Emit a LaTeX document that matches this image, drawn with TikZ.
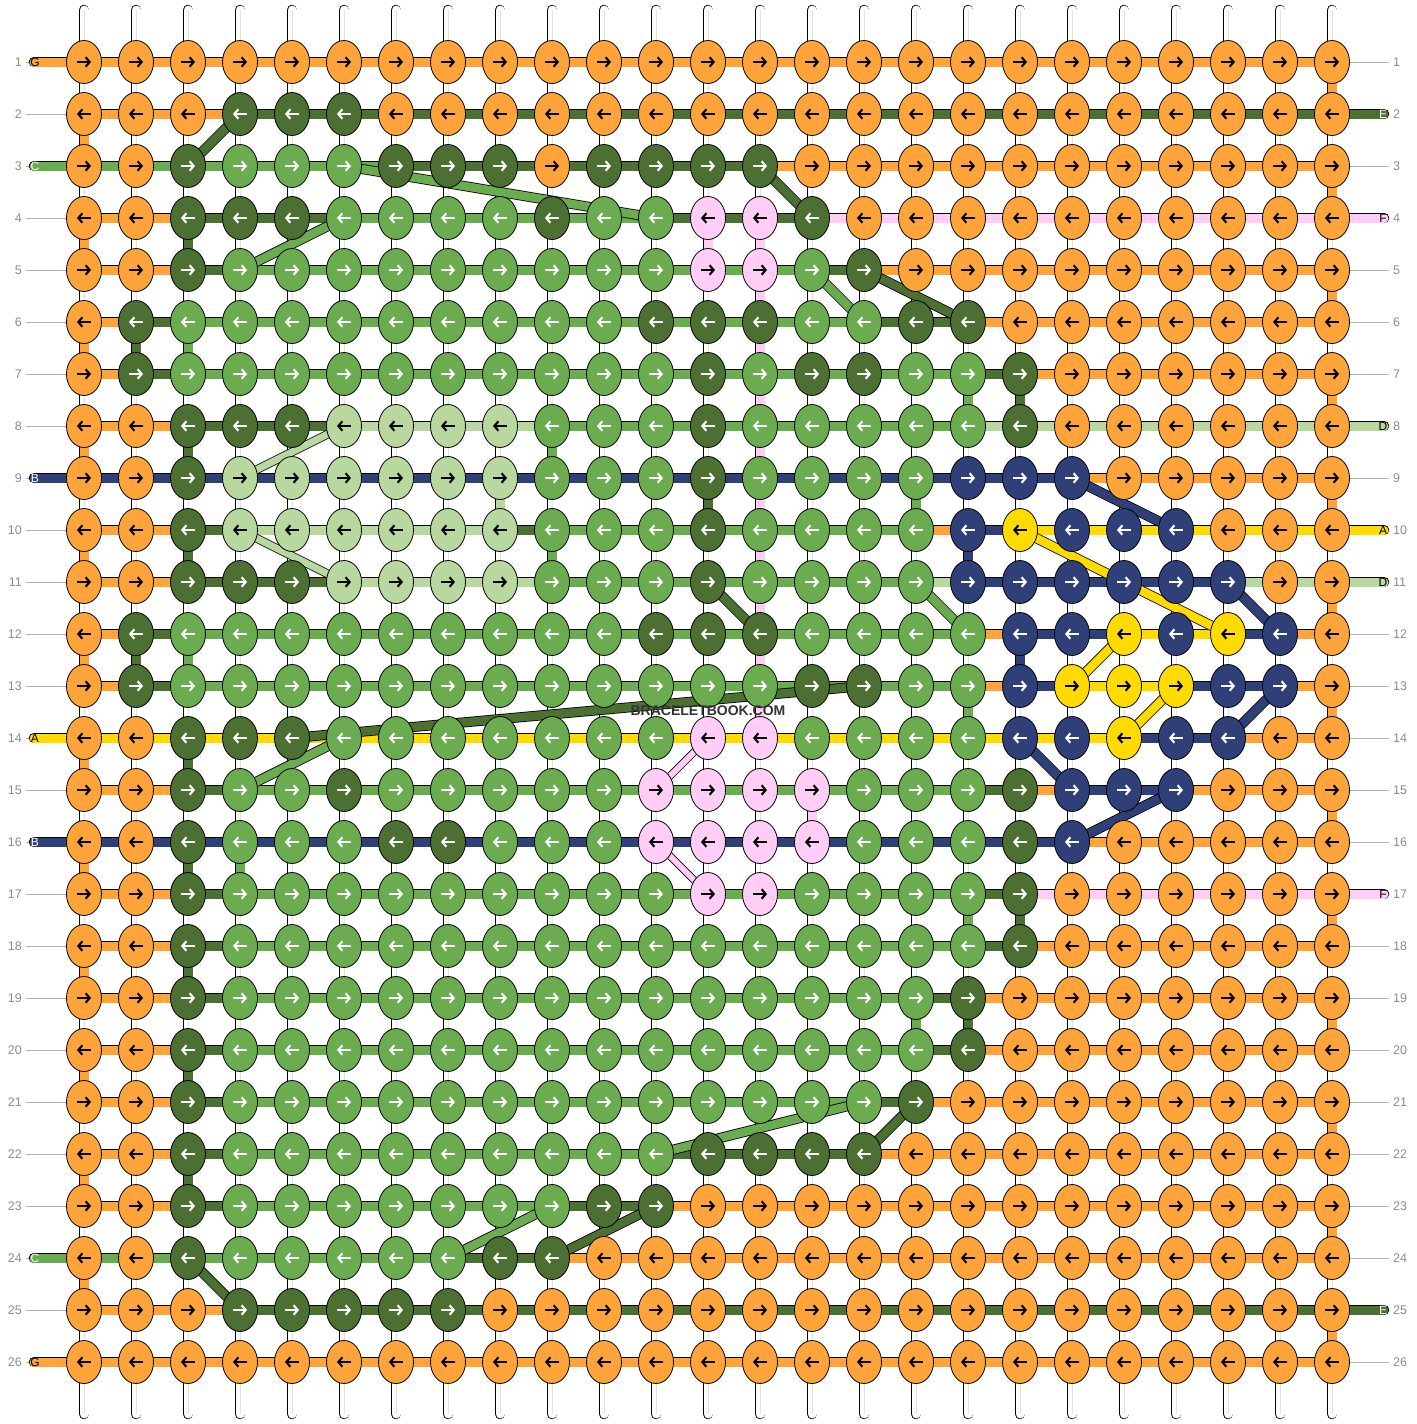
\documentclass[tikz,border=0pt]{standalone}
\usepackage{fontspec}
\setmainfont{Liberation Sans}
\usetikzlibrary{shapes.geometric,arrows.meta}

\definecolor{cO}{HTML}{FFA43B}
\definecolor{cG}{HTML}{6AAC4F}
\definecolor{cD}{HTML}{4B7032}
\definecolor{cL}{HTML}{B9D89F}
\definecolor{cP}{HTML}{FFCDF6}
\definecolor{cN}{HTML}{2E4077}
\definecolor{cY}{HTML}{FFDB00}
% arrow / letter colour on each knot colour
\colorlet{aO}{black}
\colorlet{aG}{white}
\colorlet{aD}{white}
\colorlet{aL}{black}
\colorlet{aP}{black}
\colorlet{aN}{white}
\colorlet{aY}{black}

\newcount\kcol

% knot colours, row by row, as colour/run
\def\knotrows{%
{O/25},%
{O/3,D/3,O/19},%
{O/2,D/1,G/3,D/3,O/1,D/4,O/11},%
{O/2,D/3,G/4,D/1,G/2,P/2,D/1,O/10},%
{O/2,D/1,G/9,P/2,G/1,D/1,O/9},%
{O/1,D/1,G/9,D/3,G/2,D/2,O/7},%
{O/1,D/1,G/10,D/1,G/1,D/2,G/2,D/1,O/6},%
{O/2,D/3,L/4,G/3,D/1,G/5,D/1,O/6},%
{O/2,D/1,L/6,G/3,D/1,G/4,N/3,O/5},%
{O/2,D/1,L/6,G/3,D/1,G/4,N/1,Y/1,N/3,O/3},%
{O/2,D/3,L/4,G/3,D/1,G/4,N/6,O/2},%
{O/1,D/1,G/9,D/3,G/4,N/2,Y/1,N/1,Y/1,N/1,O/1},%
{O/1,D/1,G/12,D/2,G/2,N/1,Y/3,N/2,O/1},%
{O/2,D/3,G/7,P/2,G/4,N/2,Y/1,N/2,O/2},%
{O/2,D/1,G/2,D/1,G/5,P/4,G/3,D/1,N/3,O/3},%
{O/2,D/1,G/3,D/2,G/3,P/4,G/3,D/1,N/1,O/5},%
{O/2,D/1,G/9,P/2,G/4,D/1,O/6},%
{O/2,D/1,G/15,D/1,O/6},%
{O/2,D/1,G/14,D/1,O/7},%
{O/2,D/1,G/14,D/1,O/7},%
{O/2,D/1,G/13,D/1,O/8},%
{O/2,D/1,G/9,D/4,O/9},%
{O/2,D/1,G/7,D/2,O/13},%
{O/2,D/1,G/5,D/2,O/15},%
{O/3,D/5,O/17},%
{O/25}}

% thread colour between neighbouring knots, row by row
\def\barrows{%
{O/24},%
{O/3,D/21},%
{G/6,D/7,O/11},%
{O/2,D/3,G/6,D/3,P/10},%
{O/2,D/1,G/11,D/1,O/9},%
{O/1,D/1,G/13,D/2,O/7},%
{O/1,D/1,G/15,D/1,O/6},%
{O/2,D/3,L/4,G/8,L/7},%
{N/19,O/5},%
{O/2,D/1,L/5,D/1,G/7,O/1,N/1,Y/6},%
{O/2,D/3,L/4,G/7,L/1,N/5,L/2},%
{O/1,D/1,G/15,O/1,N/2,Y/2,N/1,O/1},%
{O/1,D/1,G/15,O/1,N/1,Y/2,N/2,O/1},%
{Y/20,N/2,O/2},%
{O/2,D/1,G/14,D/1,O/1,N/2,O/3},%
{N/19,O/5},%
{O/2,D/1,G/14,D/1,P/6},%
{O/2,D/1,G/14,D/1,O/6},%
{O/2,D/1,G/13,D/1,O/7},%
{O/2,D/1,G/13,D/1,O/7},%
{O/2,D/1,G/12,D/1,O/8},%
{O/2,D/1,G/8,D/4,O/9},%
{O/2,D/1,G/6,D/2,O/13},%
{G/7,D/2,O/15},%
{O/3,D/21},%
{O/24}}

\begin{document}
\begin{tikzpicture}[x=1pt,y=-1pt,
    knot/.style={ellipse, draw=black, line width=0.8pt, minimum width=35pt, minimum height=43pt, inner sep=0pt},
    bar/.style={draw=black, line width=0.8pt, double distance=9pt},
    tube/.style={bar, double=white, line cap=round},
    hint/.style={draw=black!30, line width=0.7pt},
    rownum/.style={text=black!45, font=\fontsize{12.5}{13}\selectfont, inner sep=0pt},
    tag/.style={font=\fontsize{12}{12}\selectfont, inner sep=0pt},
    knotarrow/.style={line width=2.1pt, -{Straight Barb[length=4pt,width=9.5pt]}}
]
\useasboundingbox (0,0) rectangle (1416,1424);

% grid
\foreach \r in {1,...,26}
    \foreach \c in {1,...,25}
        \coordinate (p-\r-\c) at ({84+52*(\c-1)},{62+52*(\r-1)});

% warp strings
\foreach \c in {1,...,25} {
    \coordinate (top-\c) at ({84+52*(\c-1)},10);
    \coordinate (bot-\c) at ({84+52*(\c-1)},1414);
    \draw[tube] (top-\c) -- (bot-\c);
    \draw[black!12, line width=0.8pt] (top-\c) -- (bot-\c);
}

% weft turning at the edges
\foreach \r in {2,4,...,24} {
    \pgfmathtruncatemacro\rn{\r+1}
    \draw[bar, double=cO] (p-\r-1) -- (p-\rn-1);
}
\foreach \r in {1,3,...,25} {
    \pgfmathtruncatemacro\rn{\r+1}
    \draw[bar, double=cO] (p-\r-25) -- (p-\rn-25);
}
% threads carried down a warp
\foreach \r/\c/\k in {4/3/D,6/2/D,6/3/G,8/3/D,8/10/G,9/9/L,9/13/D,9/17/G,
        10/3/D,10/10/G,10/18/N,12/2/D,12/3/G,12/19/N,13/18/G,14/3/D,
        15/15/P,16/3/D,16/4/G,7/18/G,7/19/D,17/18/G,17/19/D,19/17/G,
        19/18/D,18/3/D,20/3/D,22/3/D,4/13/P,4/14/P,5/14/P,6/14/P,7/14/P,
        8/14/P,9/14/P,10/14/P,11/14/P,12/14/P,13/14/P} {
    \pgfmathtruncatemacro\rn{\r+1}
    \draw[bar, double=c\k] (p-\r-\c) -- (p-\rn-\c);
}

% weft along each row
\foreach \spec [count=\r] in \barrows {
    \global\kcol=0
    \foreach \k/\n in \spec {
        \foreach \i in {1,...,\n} {
            \global\advance\kcol by 1
            \edef\sa{\the\kcol}
            \pgfmathtruncatemacro\sb{\sa+1}
            \draw[bar, double=c\k] (p-\r-\sa) -- (p-\r-\sb);
        }
    }
}

% row numbers
\foreach \r in {1,...,26} {
    \node[rownum, anchor=east] (nl-\r) at (22,{62+52*(\r-1)}) {\r};
    \node[rownum, anchor=west] (nr-\r) at (1393,{62+52*(\r-1)}) {\r};
    \draw[hint] ([xshift=4pt]nl-\r.east) -- (p-\r-1);
    \draw[hint] (p-\r-25) -- ([xshift=-4pt]nr-\r.west);
}

% thread ends
\foreach \r/\txt/\k in {1/G/O,3/C/G,9/B/N,14/A/Y,16/B/N,24/C/G,26/G/O} {
    \coordinate (el-\r) at (34,{62+52*(\r-1)});
    \draw[bar, double=c\k, line cap=round] (el-\r) -- (p-\r-1);
    \node[tag, text=a\k] (tl-\r) at ([xshift=1pt]el-\r) {\txt};
}
\foreach \r/\txt/\k in {2/E/D,4/F/P,8/D/L,10/A/Y,11/D/L,17/F/P,25/E/D} {
    \coordinate (er-\r) at (1384,{62+52*(\r-1)});
    \draw[bar, double=c\k, line cap=round] (p-\r-25) -- (er-\r);
    \node[tag, text=a\k] (tr-\r) at ([xshift=-1pt]er-\r) {\txt};
}

% threads jumping between rows
\foreach \ra/\ca/\rb/\cb/\k/\w in {2/4/3/3/D/8.5,3/6/4/12/G/8.5,3/14/4/15/D/8.5,
        4/6/5/4/G/8.5,5/15/6/16/G/8.5,5/16/6/18/D/8.5,8/6/9/4/L/7,9/20/10/22/N/8.5,
        10/4/11/6/L/7,10/19/12/23/Y/8.5,11/13/12/14/D/8.5,11/17/12/18/G/8.5,
        11/23/12/24/N/8.5,13/20/12/21/Y/8.5,13/22/14/21/Y/8.5,13/24/14/23/N/8.5,
        14/5/13/16/D/8.5,14/6/15/4/G/8.5,14/13/15/12/P/6,14/19/15/20/N/8.5,
        15/22/16/20/N/8.5,16/12/17/13/P/6,21/16/22/12/G/8.5,21/17/22/16/D/8.5,
        23/12/24/10/D/8.5,23/10/24/8/G/8.5,24/3/25/4/D/8.5}
    \draw[bar, double=c\k, double distance=\w pt] (p-\ra-\ca) -- (p-\rb-\cb);

% knots
\foreach \spec [count=\r] in \knotrows {
    \global\kcol=0
    \pgfmathsetmacro\d{2*mod(\r,2)-1}
    \foreach \k/\n in \spec {
        \foreach \i in {1,...,\n} {
            \global\advance\kcol by 1
            \edef\cc{\the\kcol}
            \node[knot, fill=c\k] (k-\r-\cc) at (p-\r-\cc) {};
            \draw[knotarrow, color=a\k] (k-\r-\cc.center) ++({-7*\d},0) -- ++({14*\d},0);
        }
    }
}

\node[font=\bfseries\fontsize{14}{14}\selectfont, text=black!80] (wm) at (708,711) {BRACELETBOOK.COM};
\end{tikzpicture}
\end{document}
